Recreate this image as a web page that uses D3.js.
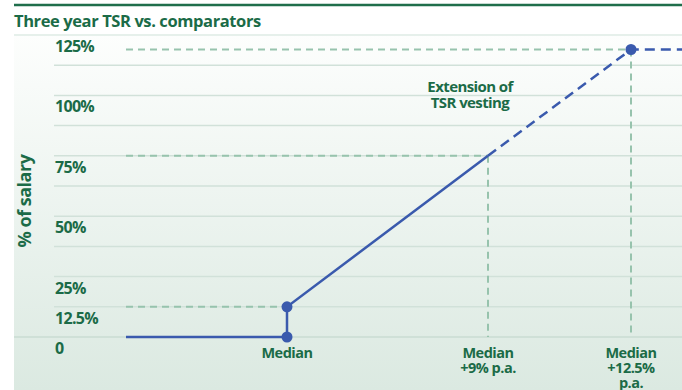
<!DOCTYPE html>
<html>
<head>
<meta charset="utf-8">
<script src="https://cdn.jsdelivr.net/npm/d3@7"></script>
<style>
    body { margin: 0; background: #fff; }
    text { font-family: "Open Sans", Lato, sans-serif; font-weight: 700; fill: #1b6b47; }
</style>
</head>
<body>
<svg id="mySVG" width="682" height="390"></svg>
<script>
// y axis labels (% of salary)
let yTickValues = [0, 12.5, 25, 50, 75, 100, 125];
let yTickLabels = ["0", "12.5%", "25%", "50%", "75%", "100%", "125%"];
// light grid every 12.5%
let gridValues = [12.5, 25, 37.5, 50, 62.5, 75, 87.5, 100, 112.5];

// x positions are TSR above median, % p.a.
let xTickValues = [0, 9, 12.5];
let xTickLabels = [["Median"], ["Median", "+9% p.a."], ["Median", "+12.5%", "p.a."]];

// vesting curve
let solidX = [-6, 0, 0, 9];
let solidY = [0, 0, 12.5, 75];
let extX = [9, 12.5, 14];
let extY = [75, 119, 119];
let dotX = [0, 0, 12.5];
let dotY = [0, 12.5, 119];

// grey-green guide lines
let guideH = [[0, 12.5], [9, 75], [12.5, 119]];
let guideV = [[9, 75], [12.5, 119]];

let blue = "#3a5aad";
let guide = "#97c3ad";

let svg = d3.select("#mySVG");

let defs = svg.append("defs");
let grad = defs.append("linearGradient")
    .attr("id", "bg")
    .attr("x1", 0).attr("y1", 0).attr("x2", 0).attr("y2", 1);
grad.append("stop").attr("offset", "0%").attr("stop-color", "#fdfefd");
grad.append("stop").attr("offset", "100%").attr("stop-color", "#dbe9e1");

svg.append("rect")
    .attr("x", 14).attr("y", 34)
    .attr("width", 668).attr("height", 356)
    .style("fill", "url(#bg)");

let x = d3.scaleLinear()
    .domain([-6, 0, 9, 12.5, 14])
    .range([126, 287, 488, 631, 682]);
let y = d3.scaleLinear()
    .domain([0, 125])
    .range([337, 35]);

// top rule and title
svg.append("line")
    .attr("x1", 14).attr("x2", 682)
    .attr("y1", 5).attr("y2", 5)
    .style("stroke", "#1f6e4b")
    .style("stroke-width", 2.5);

svg.append("text")
    .attr("x", 14).attr("y", 27)
    .style("font-size", "16.5px")
    .style("letter-spacing", "-0.4px")
    .text("Three year TSR vs. comparators");

// gridlines
svg.selectAll(".grid")
    .data(gridValues)
    .join("line")
    .classed("grid", true)
    .attr("x1", 54).attr("x2", 682)
    .attr("y1", d => y(d)).attr("y2", d => y(d))
    .style("stroke", "#d1e1d9")
    .style("stroke-width", 1.5);

svg.selectAll(".rule")
    .data([0, 125])
    .join("line")
    .classed("rule", true)
    .attr("x1", 14).attr("x2", 682)
    .attr("y1", d => y(d)).attr("y2", d => y(d))
    .style("stroke", d => d == 0 ? "#cfe0d7" : "#e6f0eb")
    .style("stroke-width", 2);

// y labels
svg.selectAll(".ylab")
    .data(yTickValues)
    .join("text")
    .classed("ylab", true)
    .attr("x", 55)
    .attr("y", d => y(d) + 17)
    .style("font-size", "16px")
    .style("letter-spacing", "-0.7px")
    .text((d, i) => yTickLabels[i]);

svg.append("text")
    .attr("transform", "translate(31,201) rotate(-90)")
    .attr("text-anchor", "middle")
    .style("font-size", "18px")
    .style("letter-spacing", "-0.5px")
    .text("% of salary");

// guides
svg.selectAll(".gh")
    .data(guideH)
    .join("line")
    .classed("gh", true)
    .attr("x1", x(-6)).attr("x2", d => x(d[0]))
    .attr("y1", d => y(d[1])).attr("y2", d => y(d[1]))
    .style("stroke", guide)
    .style("stroke-width", 2)
    .style("stroke-dasharray", "7,5");

svg.selectAll(".gv")
    .data(guideV)
    .join("line")
    .classed("gv", true)
    .attr("x1", d => x(d[0])).attr("x2", d => x(d[0]))
    .attr("y1", d => y(d[1])).attr("y2", y(0))
    .style("stroke", guide)
    .style("stroke-width", 2)
    .style("stroke-dasharray", "7,5");

// curve
let line = d3.line().x(d => x(d[0])).y(d => y(d[1]));

svg.append("path")
    .datum(solidX.map((v, i) => [v, solidY[i]]))
    .attr("d", line)
    .style("fill", "none")
    .style("stroke", blue)
    .style("stroke-width", 2.5);

svg.append("path")
    .datum(extX.map((v, i) => [v, extY[i]]))
    .attr("d", line)
    .style("fill", "none")
    .style("stroke", blue)
    .style("stroke-width", 2.5)
    .style("stroke-dasharray", "10,6");

svg.selectAll(".dot")
    .data(dotX.map((v, i) => [v, dotY[i]]))
    .join("circle")
    .classed("dot", true)
    .attr("cx", d => x(d[0]))
    .attr("cy", d => y(d[1]))
    .attr("r", 5.5)
    .style("fill", blue);

// x labels
svg.selectAll(".xlab")
    .data(xTickValues)
    .join("text")
    .classed("xlab", true)
    .attr("text-anchor", "middle")
    .attr("x", d => x(d))
    .style("font-size", "14.5px")
    .style("letter-spacing", "-0.5px")
    .each(function(d, i) {
        d3.select(this).selectAll("tspan")
            .data(xTickLabels[i])
            .join("tspan")
            .attr("x", x(d))
            .attr("y", (t, j) => 358 + j * 15)
            .text(t => t);
    });

// annotation
svg.append("text")
    .attr("text-anchor", "middle")
    .attr("x", 470)
    .style("font-size", "15px")
    .style("letter-spacing", "-0.6px")
    .selectAll("tspan")
    .data(["Extension of", "TSR vesting"])
    .join("tspan")
    .attr("x", 470)
    .attr("y", (t, j) => 92 + j * 16)
    .text(t => t);
</script>
</body>
</html>
